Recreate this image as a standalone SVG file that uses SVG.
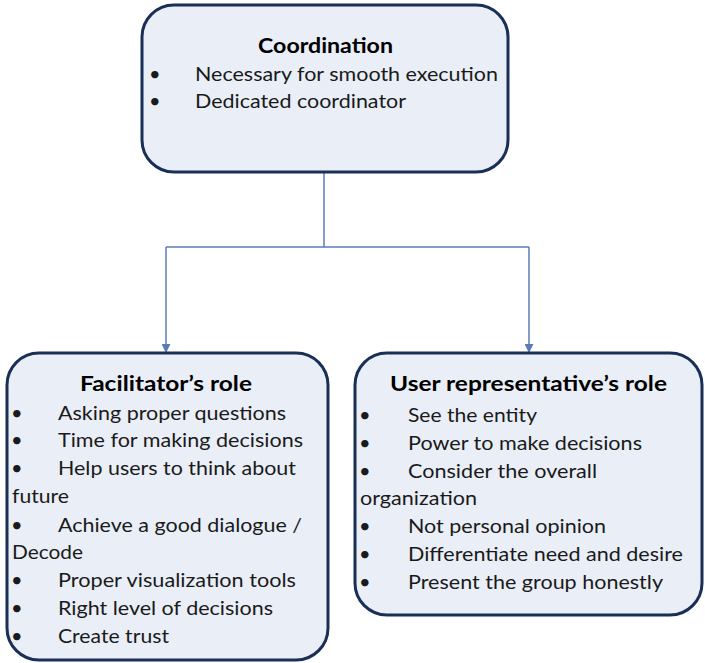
<svg xmlns="http://www.w3.org/2000/svg" width="705" height="663" viewBox="0 0 705 663">
  <defs>
    <marker id="arrow" viewBox="0 0 10 10" refX="10" refY="5" markerWidth="9" markerHeight="9" markerUnits="userSpaceOnUse" orient="auto">
      <path d="M0,0 L10,5 L0,10 Z" fill="#5B7CB6"/>
    </marker>
    <style>
      .box { fill: #E9EEF7; stroke: #1A2F55; stroke-width: 3; }
      .title { font-family: Lato, "Liberation Sans", sans-serif; font-weight: bold; font-size: 21px; fill: #000; }
      .item { font-family: Lato, "Liberation Sans", sans-serif; font-size: 20px; fill: #1a1a1a; }
      .link { fill: none; stroke: #5B7CB6; stroke-width: 1.5; }
    </style>
  </defs>

  <rect width="705" height="663" fill="#ffffff"/>

  <!-- connectors -->
  <g id="connectors">
    <path class="link" d="M324,172 V247"/>
    <path class="link" d="M166,247 H529"/>
    <path class="link" d="M166,247 V353" marker-end="url(#arrow)"/>
    <path class="link" d="M529,247 V353" marker-end="url(#arrow)"/>
  </g>

  <!-- Coordination -->
  <g id="coordination">
    <rect class="box" x="142" y="5" width="366" height="167" rx="32" ry="32"/>
    <text class="title" x="258" y="53" textLength="135" lengthAdjust="spacingAndGlyphs">Coordination</text>
    <text class="item" x="149" y="81">•</text>
    <text class="item" x="195" y="81" textLength="303" lengthAdjust="spacingAndGlyphs">Necessary for smooth execution</text>
    <text class="item" x="149" y="108">•</text>
    <text class="item" x="195" y="108" textLength="211" lengthAdjust="spacingAndGlyphs">Dedicated coordinator</text>
  </g>

  <!-- Facilitator's role -->
  <g id="facilitator">
    <rect class="box" x="7" y="353" width="321" height="307" rx="32" ry="32"/>
    <text class="title" x="80" y="391" textLength="172" lengthAdjust="spacingAndGlyphs">Facilitator’s role</text>
    <g class="item">
      <text x="11" y="420">•</text>
      <text x="58" y="420" textLength="228" lengthAdjust="spacingAndGlyphs">Asking proper questions</text>
      <text x="11" y="447">•</text>
      <text x="58" y="447" textLength="245" lengthAdjust="spacingAndGlyphs">Time for making decisions</text>
      <text x="11" y="475">•</text>
      <text x="58" y="475" textLength="238" lengthAdjust="spacingAndGlyphs">Help users to think about</text>
      <text x="12" y="503" textLength="57" lengthAdjust="spacingAndGlyphs">future</text>
      <text x="11" y="532">•</text>
      <text x="58" y="532" textLength="244" lengthAdjust="spacingAndGlyphs">Achieve a good dialogue /</text>
      <text x="12" y="559" textLength="71" lengthAdjust="spacingAndGlyphs">Decode</text>
      <text x="11" y="587">•</text>
      <text x="58" y="587" textLength="238" lengthAdjust="spacingAndGlyphs">Proper visualization tools</text>
      <text x="11" y="615">•</text>
      <text x="58" y="615" textLength="215" lengthAdjust="spacingAndGlyphs">Right level of decisions</text>
      <text x="11" y="643">•</text>
      <text x="58" y="643" textLength="111" lengthAdjust="spacingAndGlyphs">Create trust</text>
    </g>
  </g>

  <!-- User representative's role -->
  <g id="user-representative">
    <rect class="box" x="355" y="353" width="347" height="262" rx="32" ry="32"/>
    <text class="title" x="390" y="391" textLength="277" lengthAdjust="spacingAndGlyphs">User representative’s role</text>
    <g class="item">
      <text x="359" y="422">•</text>
      <text x="408" y="422" textLength="129" lengthAdjust="spacingAndGlyphs">See the entity</text>
      <text x="359" y="450">•</text>
      <text x="408" y="450" textLength="234" lengthAdjust="spacingAndGlyphs">Power to make decisions</text>
      <text x="359" y="478">•</text>
      <text x="408" y="478" textLength="189" lengthAdjust="spacingAndGlyphs">Consider the overall</text>
      <text x="360" y="505" textLength="117" lengthAdjust="spacingAndGlyphs">organization</text>
      <text x="359" y="533">•</text>
      <text x="408" y="533" textLength="198" lengthAdjust="spacingAndGlyphs">Not personal opinion</text>
      <text x="359" y="561">•</text>
      <text x="408" y="561" textLength="275" lengthAdjust="spacingAndGlyphs">Differentiate need and desire</text>
      <text x="359" y="589">•</text>
      <text x="408" y="589" textLength="255" lengthAdjust="spacingAndGlyphs">Present the group honestly</text>
    </g>
  </g>
</svg>
